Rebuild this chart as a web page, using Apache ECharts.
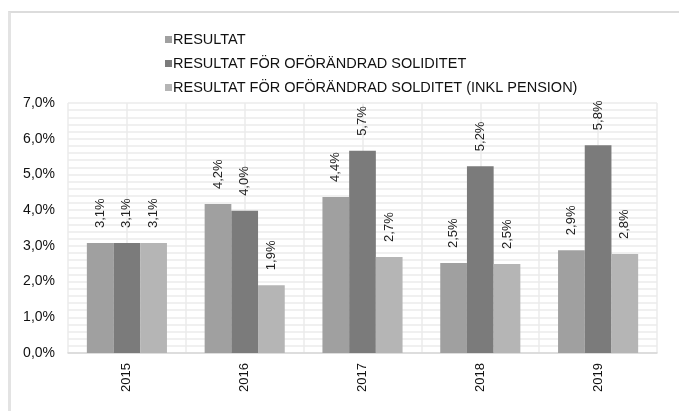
<!DOCTYPE html>
<html>
<head>
<meta charset="utf-8">
<script src="https://cdn.jsdelivr.net/npm/echarts@6/dist/echarts.min.js"></script>
<style>
html,body{margin:0;padding:0;background:#fff;}
#frame{position:absolute;left:8px;top:11px;width:700px;height:420px;border-left:3px solid #e3e3e3;border-top:2px solid #dcdcdc;}
#chart{position:absolute;left:0;top:0;width:679px;height:411px;}
</style>
</head>
<body>
<div id="frame"></div>
<div id="chart"></div>
<script>
const categories = ['2015', '2016', '2017', '2018', '2019'];
const seriesNames = [
  'RESULTAT',
  'RESULTAT FÖR OFÖRÄNDRAD SOLIDITET',
  'RESULTAT FÖR OFÖRÄNDRAD SOLDITET (INKL PENSION)'
];
const resultat = [3.08, 4.17, 4.37, 2.52, 2.88];
const resultatSoliditet = [3.08, 3.98, 5.66, 5.23, 5.82];
const resultatSoliditetPension = [3.08, 1.90, 2.69, 2.49, 2.77];
const yTicks = [0, 1, 2, 3, 4, 5, 6, 7];

const colors = ['#a0a0a0', '#7b7b7b', '#b5b5b5'];
const values = [resultat, resultatSoliditet, resultatSoliditetPension];
const fmt = v => v.toFixed(1).replace('.', ',') + '%';
const font = 'Liberation Sans, Arial, sans-serif';

const chart = echarts.init(document.getElementById('chart'), null, {renderer: 'canvas'});

const series = values.map((arr, si) => ({
  name: seriesNames[si],
  type: 'bar',
  xAxisIndex: 0,
  yAxisIndex: 0,
  barGap: '0%',
  barCategoryGap: '32%',
  itemStyle: {color: colors[si]},
  data: arr,
  label: {
    show: true,
    position: 'top',
    distance: 15,
    rotate: 90,
    align: 'left',
    verticalAlign: 'middle',
    fontFamily: font,
    fontSize: 13,
    color: '#222',
    formatter: p => fmt(p.value)
  }
}));

const option = {
  animation: false,
  backgroundColor: 'transparent',
  legend: {
    orient: 'vertical',
    left: 160,
    top: 27,
    itemWidth: 7,
    itemHeight: 7,
    itemGap: 9,
    icon: 'rect',
    textStyle: {fontFamily: font, fontSize: 14.5, color: '#111', padding: [0, 0, 0, -4]},
    data: seriesNames
  },
  grid: {left: 68, right: 22, top: 103, bottom: 58, containLabel: false},
  xAxis: [
    {
      type: 'category',
      data: categories,
      axisLine: {show: true, lineStyle: {color: '#d6d6d6', width: 1.5}},
      axisTick: {show: false},
      splitLine: {show: false},
      axisLabel: {rotate: 90, margin: 10, fontFamily: font, fontSize: 13, color: '#111'}
    },
    {
      type: 'value',
      min: 0, max: 10, interval: 1,
      position: 'bottom',
      show: true,
      axisLine: {show: false},
      axisTick: {show: false},
      axisLabel: {show: false},
      splitLine: {show: true, lineStyle: {color: '#ebebeb', width: 1.5}}
    }
  ],
  yAxis: {
    type: 'value',
    min: yTicks[0],
    max: yTicks[yTicks.length - 1],
    interval: 1,
    axisLine: {show: false},
    axisTick: {show: false},
    axisLabel: {
      margin: 13,
      fontFamily: font,
      fontSize: 14,
      color: '#111',
      formatter: v => v.toFixed(1).replace('.', ',') + '%'
    },
    splitLine: {show: true, lineStyle: {color: '#ebebeb', width: 1.5}},
    minorTick: {show: false, splitNumber: 5},
    minorSplitLine: {show: true, lineStyle: {color: '#ebebeb', width: 1.5}}
  },
  series: series
};
chart.setOption(option);
</script>
</body>
</html>
